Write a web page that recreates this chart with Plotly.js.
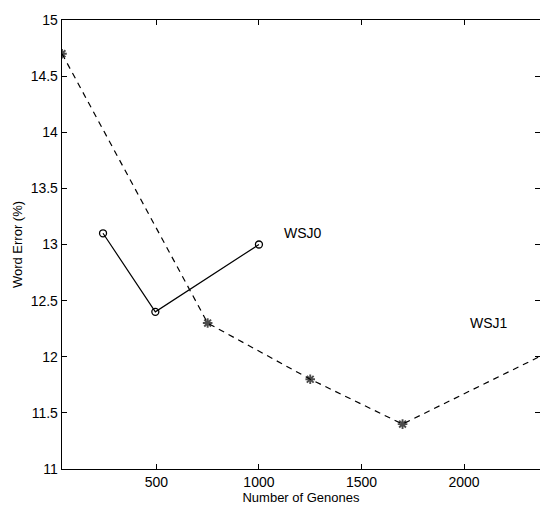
<!DOCTYPE html>
<html>
<head>
<meta charset="utf-8">
<script src="https://cdn.plot.ly/plotly-3.0.1.min.js"></script>
<style>html,body{margin:0;padding:0;background:#fff;}#chart{width:540px;height:508px;}</style>
</head>
<body>
<div id="chart"></div>
<script>
var wsj0X = [240, 495, 1000];
var wsj0Y = [13.1, 12.4, 13.0];
var wsj1X = [40, 750, 1250, 1700, 2400];
var wsj1Y = [14.7, 12.3, 11.8, 11.4, 12.03];
var wsj1Markers = [true, true, true, true, false];
var xTicks = [500, 1000, 1500, 2000];
var yTicks = [11, 11.5, 12, 12.5, 13, 13.5, 14, 14.5, 15];
var seriesLabels = ['WSJ0', 'WSJ1'];
var labelPos = [[1110, 13.1], [2020, 12.3]];

var font = 'Liberation Sans, Arial, sans-serif';
var traces = [
  {x: wsj0X, y: wsj0Y, mode: 'lines+markers', type: 'scatter',
   line: {color: '#000', width: 1.2, dash: 'solid'},
   marker: {symbol: 'circle-open', size: 7, color: '#000', line: {width: 1.3}},
   cliponaxis: true, showlegend: false},
  {x: wsj1X, y: wsj1Y, mode: 'lines+markers', type: 'scatter',
   line: {color: '#000', width: 1.2, dash: '6px,5px'},
   marker: {symbol: 'asterisk-open', size: wsj1Markers.map(function(m){return m ? 8 : 0;}), color: '#000', line: {width: 1.9, color: '#000'}},
   cliponaxis: true, showlegend: false}
];
var annotations = seriesLabels.map(function(t, i){
  return {x: labelPos[i][0], y: labelPos[i][1], text: t, showarrow: false, xanchor: 'left', yanchor: 'middle',
          font: {family: font, size: 14, color: '#000'}};
});
var layout = {
  width: 540, height: 508,
  margin: {l: 62, r: 0, t: 20, b: 39},
  paper_bgcolor: '#fff', plot_bgcolor: '#fff',
  showlegend: false,
  annotations: annotations,
  xaxis: {range: [40, 2370], tickvals: xTicks, ticktext: xTicks.map(String),
          ticks: 'inside', ticklen: 5, tickcolor: '#000', showgrid: false, zeroline: false,
          showline: true, linecolor: '#000', linewidth: 1.3, mirror: 'allticks',
          tickfont: {family: font, size: 14, color: '#000'},
          title: {text: 'Number of Genones', font: {family: font, size: 13, color: '#000'}, standoff: 3}},
  yaxis: {range: [11, 15], tickvals: yTicks, ticktext: yTicks.map(String),
          ticks: 'inside', ticklen: 5, tickcolor: '#000', showgrid: false, zeroline: false,
          showline: true, linecolor: '#000', linewidth: 1.3, mirror: 'allticks',
          tickfont: {family: font, size: 14, color: '#000'},
          title: {text: 'Word Error (%)', font: {family: font, size: 13, color: '#000'}, standoff: 5}}
};
Plotly.newPlot('chart', traces, layout, {staticPlot: true});
</script>
</body>
</html>
